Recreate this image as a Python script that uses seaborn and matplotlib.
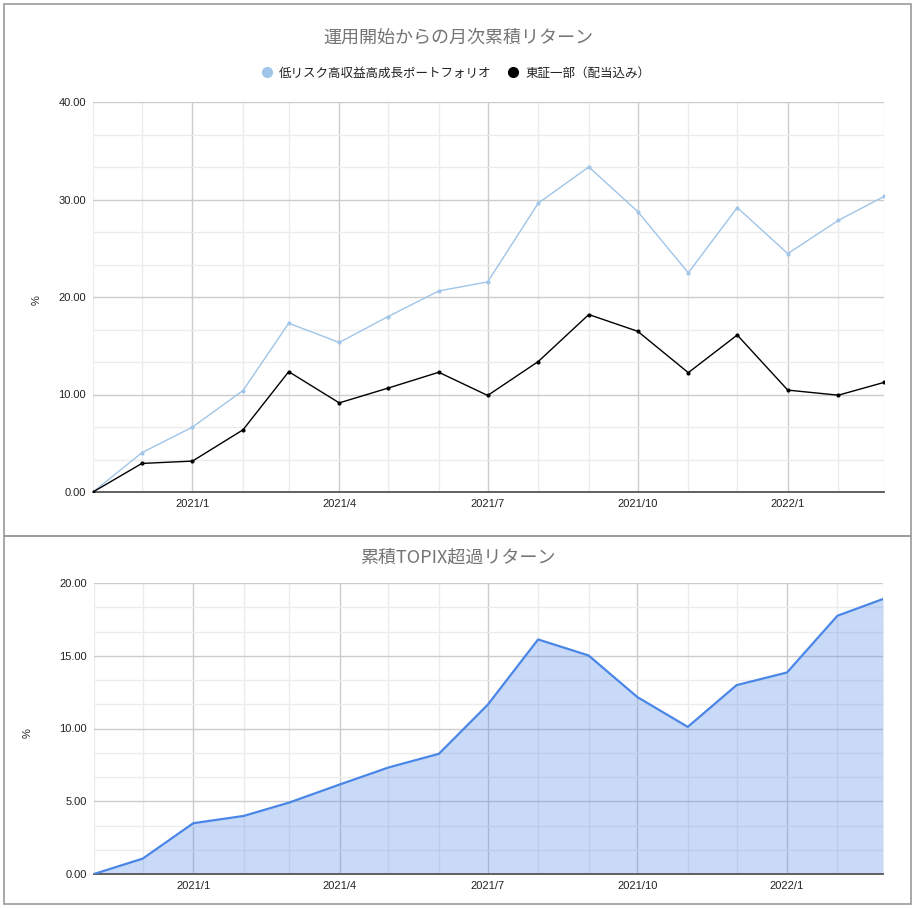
import pandas as pd
import seaborn as sns
import matplotlib.pyplot as plt
import matplotlib.dates as mdates
from matplotlib.patches import Rectangle
from matplotlib.ticker import MultipleLocator, FuncFormatter

months = ["2020/11", "2020/12", "2021/1", "2021/2", "2021/3", "2021/4", "2021/5", "2021/6",
          "2021/7", "2021/8", "2021/9", "2021/10", "2021/11", "2021/12", "2022/1", "2022/2", "2022/3"]
portfolio = [0.0, 4.03, 6.66, 10.41, 17.31, 15.34, 18.0, 20.62, 21.55,
             29.62, 33.34, 28.76, 22.48, 29.17, 24.45, 27.86, 30.31]
topix = [0.0, 2.93, 3.17, 6.38, 12.34, 9.14, 10.66, 12.28, 9.9,
         13.38, 18.2, 16.48, 12.24, 16.10, 10.45, 9.93, 11.24]
excess = [0.0, 1.06, 3.49, 3.99, 4.91, 6.15, 7.32, 8.26, 11.63,
          16.12, 15.02, 12.16, 10.11, 12.98, 13.85, 17.75, 18.9]

name_pf = "低リスク高収益高成長ポートフォリオ"
name_tp = "東証一部（配当込み）"
title_top = "運用開始からの月次累積リターン"
title_bot = "累積TOPIX超過リターン"

dates = pd.to_datetime(months, format="%Y/%m")
df = pd.DataFrame({"date": dates, "pf": portfolio, "tp": topix, "ex": excess})

sns.set_style("white")
plt.rcParams['font.family'] = ['Liberation Sans', 'Noto Sans CJK JP', 'DejaVu Sans']
jp = ['Noto Sans CJK JP', 'DejaVu Sans']

fig = plt.figure(figsize=(9.16, 9.09), dpi=100)

# panel borders
fig.add_artist(Rectangle((4 / 916, 1 - 536 / 909), 907 / 916, 532 / 909, transform=fig.transFigure,
                         fill=False, edgecolor="#9a9a9a", linewidth=1.2))
fig.add_artist(Rectangle((4 / 916, 1 - 904 / 909), 907 / 916, 368 / 909, transform=fig.transFigure,
                         fill=False, edgecolor="#9a9a9a", linewidth=1.2))

ax1 = fig.add_axes([93 / 916, 1 - 492 / 909, 791 / 916, 390 / 909])
ax2 = fig.add_axes([94 / 916, 1 - 874 / 909, 789 / 916, 291 / 909])


def style_axis(ax, ymax, step):
    ax.set_xlim(dates[0], dates[-1])
    ax.set_ylim(0, ymax)
    ax.xaxis.set_major_locator(mdates.MonthLocator(bymonth=[1, 4, 7, 10]))
    ax.xaxis.set_minor_locator(mdates.MonthLocator())
    ax.xaxis.set_major_formatter(FuncFormatter(lambda v, p: f"{mdates.num2date(v).year}/{mdates.num2date(v).month}"))
    ax.yaxis.set_major_locator(MultipleLocator(step))
    ax.yaxis.set_minor_locator(MultipleLocator(step / 3))
    ax.yaxis.set_major_formatter(FuncFormatter(lambda v, p: f"{v:.2f}"))
    ax.grid(which="major", color="#cccccc", linewidth=1.0)
    ax.grid(which="minor", color="#ececec", linewidth=1.0)
    ax.set_axisbelow(True)
    for s in ["top", "right", "left"]:
        ax.spines[s].set_visible(False)
    ax.spines["bottom"].set_color("#555555")
    ax.spines["bottom"].set_linewidth(1.3)
    ax.tick_params(which="both", length=0, labelsize=8, colors="#222222", pad=5)
    ax.set_xlabel("")
    ax.set_ylabel("")


sns.lineplot(data=df, x="date", y="pf", ax=ax1, color="#9fc5e8", linewidth=1.0,
             marker="o", markersize=3, markeredgewidth=0, label=name_pf, zorder=3)
sns.lineplot(data=df, x="date", y="tp", ax=ax1, color="#000000", linewidth=1.0,
             marker="o", markersize=3, markeredgewidth=0, label=name_tp, zorder=4)
style_axis(ax1, 40, 10)
ax1.legend_.remove()

handles = [plt.Line2D([], [], marker="o", linestyle="", color="#9fc5e8", markersize=7),
           plt.Line2D([], [], marker="o", linestyle="", color="#000000", markersize=7)]
fig.legend(handles, [name_pf, name_tp], loc="center", bbox_to_anchor=(0.497, 1 - 73 / 909), ncol=2,
           frameon=False, prop={"family": jp, "size": 9}, handletextpad=0.5, columnspacing=1.2,
           handlelength=1.0, labelcolor="#222222")

fig.text(0.5, 1 - 38 / 909, title_top, ha="center", va="center", fontsize=13,
         color="#757575", family=jp)
fig.text(37 / 916, 1 - 300 / 909, "%", ha="center", va="center", rotation=90, fontsize=8, color="#222222")

sns.lineplot(data=df, x="date", y="ex", ax=ax2, color="#4a86e8", linewidth=1.6, zorder=3)
ax2.fill_between(df["date"], df["ex"], 0, color="#4a86e8", alpha=0.3, linewidth=0, zorder=2)
style_axis(ax2, 20, 5)

fig.text(0.5, 1 - 558 / 909, title_bot, ha="center", va="center", fontsize=13,
         color="#757575", family=jp)
fig.text(28 / 916, 1 - 733 / 909, "%", ha="center", va="center", rotation=90, fontsize=8, color="#222222")

fig.savefig("out.png", dpi=100, facecolor="white")
